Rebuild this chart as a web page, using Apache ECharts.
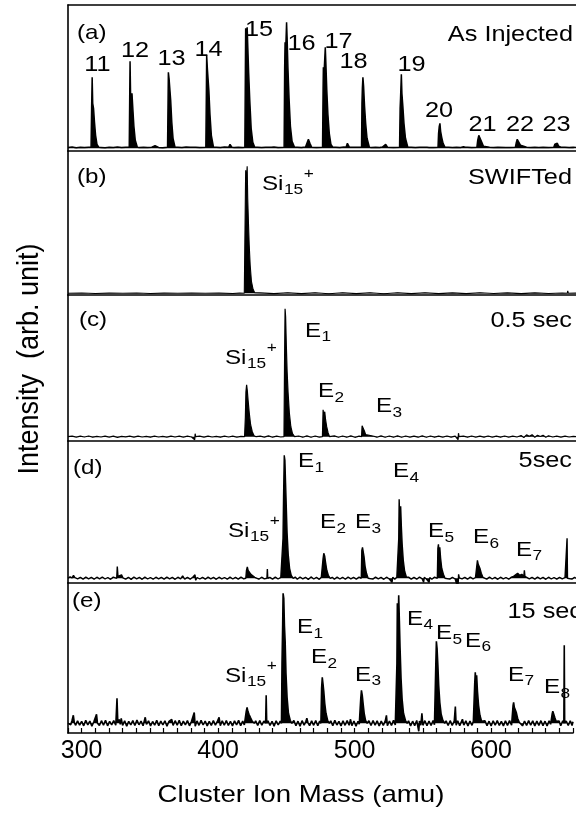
<!DOCTYPE html>
<html><head><meta charset="utf-8">
<script src="https://cdn.jsdelivr.net/npm/echarts@6/dist/echarts.min.js"></script>
<style>html,body{margin:0;padding:0;background:#fff}#c{width:576px;height:814px}</style>
</head><body><div id="c"></div>
<script>
// ---------------- DATA (mass in amu, intensity in arb. units) ----------------
const xTickLabels = [300, 400, 500, 600];

// Panel (a) As Injected
const peaksA = [
 [[306.8,1],[307.2,40],[307.6,71],[308,45],[308.6,40],[309.3,26],[310.1,13],[311.1,4],[312.5,1]],
 [[334.6,1],[335,60],[335.2,87],[335.6,52],[336.6,55],[337.3,38],[338,22],[339,8],[340.5,1]],
 [[362.5,1],[362.9,50],[363.1,76],[363.6,70],[364.2,72],[364.8,48],[365.6,26],[366.5,10],[368,1]],
 [[390.4,1],[390.8,60],[391,93],[391.5,80],[392,82],[392.6,58],[393.4,34],[394.4,13],[396,1]],
 [[418.8,1],[419.2,80],[419.4,120],[419.9,95],[420.5,121],[421,100],[421.6,75],[422.4,48],[423.4,20],[424.6,6],[426,1]],
 [[447.4,1],[447.8,80],[448.1,106],[448.6,100],[449.2,126],[449.6,110],[450.2,80],[451,50],[452,22],[453.2,7],[455,1]],
 [[475.4,1],[475.8,60],[476,81],[476.6,78],[477.4,101],[477.9,82],[478.5,58],[479.3,34],[480.3,15],[481.5,4],[483,1]],
 [[503.8,1],[504.1,45],[504.4,60],[504.8,71],[505.3,62],[506,42],[506.8,25],[507.8,10],[509.5,1]],
 [[531.5,1],[531.9,40],[532.2,50],[532.8,74],[533.2,55],[533.9,42],[534.7,25],[535.8,10],[537.5,1]],
 [[559.5,1],[559.9,15],[560.4,22],[560.9,25],[561.4,17],[562.2,11],[563.2,5],[564.6,1]],
 [[587.8,1],[588.4,8],[589.2,13],[590,15],[590.6,11],[591.4,6],[592.6,2],[594,1]],
 [[615.8,1],[616.4,5],[617.2,9],[618,10],[618.6,7],[619.6,3],[621,1]],
 [[643.8,1],[644.6,4],[645.6,6],[646.4,5],[647.4,2],[649,1]],
 [[352.4,1],[353.4,2.5],[354.6,1]],
 [[379,1],[380.1,3],[381.4,1]],
 [[407,1],[408,4],[409.5,1]],
 [[435.7,1],[436.7,3],[438,1]],
 [[464,1],[465.1,9],[466.2,5],[467.5,1]],
 [[492.5,1],[493.5,5],[495,1]],
 [[520.4,1],[521.4,4],[522.8,1]],
 [[549,1],[550.1,2],[551.5,1]],
 [[577,1],[578,1.5],[579.5,1]]
];
const noiseA = [[290,0.8],[293,1.2],[296,0.6],[299,1.0],[302,0.7],[305,1.1],[314,0.9],[317,0.6],[320,1.0],[323,0.8],[326,1.3],[329,0.7],[332,1.0],[342,0.8],[345,1.1],[348,0.7],[351,1.0],[356,0.9],[359,0.6],[370,1.0],[373,0.8],[376,1.2],[383,1.0],[386,0.7],[398,1.0],[401,0.8],[404,1.2],[411,0.9],[414,1.1],[417,0.8],[428,1.0],[431,0.7],[434,1.0],[440,1.2],[443,0.8],[457,1.0],[460,0.8],[463,1.3],[468,1.1],[471,0.9],[485,1.0],[488,0.7],[491,1.2],[496,0.9],[499,1.1],[511,0.8],[514,1.0],[517,0.7],[519,1.2],[524,1.0],[527,0.8],[540,1.0],[543,0.7],[546,1.1],[553,0.9],[556,0.7],[567,1.0],[570,0.8],[573,1.1],[576,0.9],[581,1.0],[584,0.7],[597,1.0],[600,0.7],[603,1.1],[609,0.9],[612,0.8],[624,1.0],[627,0.7],[630,1.1],[633,0.9],[636,1.0],[640,0.8],[652,1.0],[655,0.8],[658,1.0],[660,0.9]];

// Panel (b) SWIFTed
const peaksB = [
 [[418.4,0],[418.9,0.5],[419.2,100],[419.4,123],[419.7,110],[420.1,118],[420.5,127],[420.9,95],[421.4,72],[422,48],[422.7,28],[423.6,12],[424.8,4],[426,0.5]]
];
const noiseB = [[290,0],[300,0.3],[310,-0.2],[320,0.2],[330,0],[340,0.3],[350,-0.2],[360,0.2],[370,0],[380,0.3],[390,0],[400,0.2],[410,-0.2],[415,0.2],[430,0.4],[440,-0.3],[450,0.5],[460,-0.3],[470,0.6],[480,-0.4],[490,0.5],[500,-0.3],[510,0.6],[520,-0.4],[530,0.5],[540,-0.3],[550,0.5],[560,-0.3],[570,0.4],[580,-0.3],[590,0.5],[600,-0.2],[610,0.4],[620,-0.3],[630,0.4],[640,-0.2],[650,0.3],[653.6,0],[654,2.5],[654.4,0],[660,0.2]];

// Panel (c) 0.5 sec
const peaksC = [
 [[418.6,0],[419.2,20],[419.6,45],[420.1,52],[420.6,46],[421.2,36],[422,24],[423,12],[424.2,5],[425.5,1],[427,0]],
 [[447.3,0],[447.7,70],[448.1,128],[448.5,120],[449,92],[449.6,65],[450.3,44],[451.2,24],[452.3,10],[453.5,3],[455,0]],
 [[475.3,0],[475.8,27],[476.4,20],[477,25],[477.6,17],[478.4,10],[479.4,4],[480.5,0]],
 [[503.8,0],[504.2,11],[505,10],[505.8,6],[506.8,2],[508,0]]
];
const noiseC = [[290,0],[293,0.6],[296,-0.4],[299,0.5],[302,-0.3],[305,0.7],[308,-0.5],[311,0.4],[314,-0.3],[317,0.6],[320,-0.4],[323,0.5],[326,-0.6],[329,0.4],[332,-0.2],[335,0.6],[338,-0.4],[341,0.5],[344,-0.3],[347,0.4],[350,-0.5],[353,0.6],[356,-0.3],[359,0.4],[362,-0.4],[365,0.5],[368,-0.3],[371,0.6],[374,-0.4],[377,0.5],[380,-0.3],[382.3,-3],[382.6,3],[383,0],[386,0.5],[389,-0.4],[392,0.6],[395,-0.3],[398,0.4],[401,-0.5],[404,0.6],[407,-0.3],[410,0.5],[413,-0.4],[416,0.3],[430,0.6],[433,-0.4],[436,0.8],[439,-0.5],[442,0.6],[445,-0.3],[458,0.7],[461,-0.5],[464,0.8],[467,-0.6],[470,0.7],[473,-0.4],[484,0.8],[487,-0.6],[490,0.7],[493,-0.5],[496,0.8],[499,-0.6],[502,0.5],[512,0.7],[515,-0.5],[518,0.8],[521,-0.6],[524,0.7],[527,-0.5],[530,0.8],[533,-0.6],[536,0.7],[539,-0.4],[542,0.6],[545,-0.5],[548,0.8],[551,-0.6],[554,0.7],[557,-0.5],[560,0.6],[563,-0.4],[566,0.7],[569,-0.5],[572,0.6],[574.1,-3],[574.4,3.5],[574.8,0],[578,0.6],[581,-0.5],[584,0.7],[587,-0.4],[590,0.6],[593,-0.5],[596,0.7],[599,-0.4],[602,0.6],[605,-0.5],[608,0.7],[611,-0.4],[614,0.6],[617,-0.3],[620,1.2],[622,-0.8],[624,1.8],[626,0.4],[628,2.0],[630,-0.6],[632,1.5],[634,0.2],[636,1.4],[638,-0.5],[640,1.0],[643,-0.3],[646,0.6],[649,-0.4],[652,0.5],[655,-0.3],[658,0.4],[660,0]];

// Panel (d) 5 sec
const peaksD = [
 [[419.5,0],[420,8],[420.6,11.5],[421.2,8],[422,6],[423.2,4],[424.5,2],[426,1]],
 [[446.2,0],[446.6,40],[447,83],[447.5,123],[448,118],[448.5,95],[449,72],[449.6,45],[450.4,24],[451.4,10],[452.6,3],[454,0]],
 [[475.3,0],[475.8,20],[476.3,25],[477,22],[477.6,16],[478.5,8],[479.6,3],[481,0]],
 [[503.6,0],[504,28],[504.5,31],[505,32],[505.6,22],[506.4,12],[507.4,5],[508.6,0]],
 [[530.5,0],[530.9,40],[531.2,79],[531.7,55],[532.3,72],[532.8,52],[533.4,34],[534.2,18],[535.2,7],[536.5,1]],
 [[559,0],[559.4,30],[559.8,34],[560.3,25],[560.8,31],[561.4,20],[562.2,10],[563.4,4],[564.6,0]],
 [[587.8,0],[588.2,18],[588.8,14],[589.4,15],[590,10],[591,5],[592.2,1]]
];
const noiseD = [[290,0],[291.5,1.5],[293,0.5],[294,3],[295,0.8],[297,-0.6],[299,1.0],[301,-0.8],[303,1.2],[305,-0.5],[307,0.9],[309,-0.9],[311,1.1],[313,-0.6],[315,1.3],[317,-0.7],[319,0.8],[321,-1.0],[323,1.2],[325.5,0],[325.9,11.7],[326.4,2],[327,4],[327.8,1],[329,3.5],[330,0.5],[332,-0.8],[334,1.0],[336,-1.1],[338,1.3],[340,-0.6],[342,0.9],[344,-1.0],[346,1.2],[348,-0.7],[350,0.8],[352,-0.9],[354,1.1],[356,-0.6],[358,1.0],[360,-0.8],[362,1.2],[364,-0.5],[366,0.9],[368,-1.0],[370,1.1],[372,-0.6],[373.5,2.5],[375,-0.8],[377,1.0],[379,-0.9],[381,1.3],[382.5,3.5],[383,-2],[384,0.8],[386,-0.7],[388,1.0],[390,-0.9],[392,1.2],[394,-0.6],[396,0.9],[398,-1.0],[400,1.1],[400.7,2.5],[402,-0.6],[404,0.8],[406,-0.9],[408,1.2],[410,-0.7],[412,1.0],[414,-0.8],[416,1.1],[418,-0.5],[427,0.8],[429,-0.9],[431,1.1],[433,-0.6],[434.9,0],[435.2,9.3],[435.5,0],[437,1.0],[439,-0.8],[441,1.2],[443,-0.7],[445,0.9],[455.5,1.2],[457,-0.9],[459,1.3],[461,-0.6],[463,1.0],[465,-1.1],[467,1.4],[469,-0.7],[471,0.9],[473,-1.0],[474.5,1.1],[482.5,1.0],[484,-0.9],[486,1.2],[488,-0.7],[490,1.0],[492,-1.0],[494,1.3],[496,-0.6],[498,0.9],[500,-0.8],[502,1.1],[510,1.0],[512,-0.8],[514,1.2],[516,-0.6],[518,0.9],[520,-1.0],[522,1.1],[524,-0.7],[526,-4],[526.5,1],[528,-0.8],[529.5,1.0],[538,1.2],[540,-0.8],[542,1.0],[544,-0.9],[546,1.3],[548,-0.6],[549,-4],[549.5,1],[551,-0.7],[553,-4],[553.5,0.8],[555,-0.9],[557,1.2],[558.2,-0.5],[566,1.1],[568,-0.8],[570,1.0],[572,-0.7],[574,-10],[574.5,4],[575,0.5],[577,-0.6],[579,1.0],[581,-0.9],[583,1.2],[585,-0.6],[586.8,0.8],[593.5,1.0],[595,-0.8],[597,1.2],[599,-0.7],[601,0.9],[603,-1.0],[605,1.1],[607,-0.6],[609,0.8],[611,-0.9],[613,1.2],[614.5,2],[616,3.5],[617.5,5],[619,3],[620.5,4],[622,2],[622.4,8],[622.8,2],[624,1.5],[626,-0.5],[628,1.0],[630,-0.8],[632,1.2],[634,-0.6],[636,0.9],[638,-1.0],[640,1.1],[642,-0.7],[644,0.8],[646,-0.9],[648,1.0],[650,-0.6],[652,0.8],[653.2,0],[653.5,40],[653.8,0],[655,0.6],[657,-0.8],[659,0.9],[660,0]];

// Panel (e) 15 sec
const peaksE = [
 [[420,0],[420.6,12],[421.2,16],[421.8,12],[422.6,9],[423.6,6],[425,2],[426.5,0]],
 [[446.4,0],[446.8,60],[447.3,100],[447.6,130],[448.1,125],[448.6,97],[449.1,82],[449.7,50],[450.5,26],[451.5,10],[452.8,3],[454,0]],
 [[475.3,0],[475.8,35],[476.3,46],[476.8,40],[477.4,32],[478.1,20],[479,10],[480.2,3],[481.5,0]],
 [[504,0],[504.5,25],[505,33],[505.6,28],[506.2,20],[507,10],[508,3],[509.2,0]],
 [[530.6,0],[531,60],[531.3,120],[531.8,95],[532.3,128],[532.8,102],[533.3,75],[534,45],[534.8,24],[535.8,10],[537.2,3],[538.5,0]],
 [[559,0],[559.5,60],[559.9,82],[560.4,75],[561,58],[561.6,38],[562.4,21],[563.4,9],[564.6,3],[566,0]],
 [[587.6,0],[588,40],[588.4,51],[588.9,40],[589.4,48],[590,32],[590.8,18],[591.8,8],[593,2],[594.4,0]],
 [[615.6,0],[616.1,18],[616.5,21],[617,16],[617.6,18],[618.4,11],[619.4,5],[620.6,1]],
 [[644.2,0],[644.7,9],[645.2,12],[645.8,10],[646.6,6],[647.6,2],[648.8,0]]
];
const noiseE = [[290,0],[291,2],[292,-1.5],[293,3],[293.9,8],[294.6,1],[295.5,-2],[297,2.5],[298.5,-1.8],[300,2],[301.5,-2.5],[303,3],[304.5,-1.5],[306,2.2],[307.5,-2.8],[309,1.8],[310.9,9],[311.6,0],[313,-2.2],[314.5,2.6],[316,-1.8],[317.5,3],[319,-2.5],[320.5,2],[322,-1.6],[323.5,2.8],[325,-2],[325.9,25],[326.5,1],[327.5,4],[328.3,-1],[329,5],[330,-2],[331.5,2.5],[333,-2.8],[334.5,1.9],[336,-1.6],[337.5,2.7],[339,-2.2],[340.5,3.2],[342,-1.5],[343.5,2.1],[345,-2.4],[346.6,6],[347.5,-1],[349,2.4],[350.5,-2.6],[352,1.8],[353.5,-1.9],[355,2.9],[356.5,-2.3],[358,2.2],[359.5,-1.7],[361,2.5],[362.5,-2.8],[364,2.0],[366,4],[367,-2.1],[368.5,2.6],[370,-1.9],[371.5,3.0],[373,-2.4],[374.5,2.1],[376,-1.6],[377.5,2.8],[379,-2.5],[380.5,2.0],[382.5,10.7],[383.2,-3],[384.5,2.4],[386,-2.0],[387.5,2.9],[389,-1.7],[390.5,2.2],[392,-2.6],[393.5,1.9],[395,-2.1],[396.5,2.7],[398,-1.8],[399.5,2.3],[400.7,6],[401.6,-2.4],[403,2.5],[404.5,-1.9],[406,2.8],[407.5,-2.2],[409,2.0],[410.5,-2.7],[412,2.4],[413.5,-1.6],[415,2.9],[416.5,-2.3],[418,2.1],[419.2,-1.5],[427.5,2.4],[429,-2.1],[430.5,2.8],[432,-1.9],[433.5,2.3],[434.8,0],[435.2,28],[435.6,0],[436.5,2.6],[438,-2.2],[439.5,2.0],[441,-2.8],[442.5,2.5],[444,-1.7],[445.5,2.2],[455.5,2.7],[457,-2.4],[458.5,2.1],[460,-2.9],[461.5,2.6],[463,-1.8],[464.3,2],[465,5],[465.7,1],[467,-2.3],[468.5,2.4],[470,-2.0],[471.5,2.8],[473,-2.5],[474.4,2.2],[482.5,2.5],[484,-2.3],[485.5,2.9],[487,-1.7],[488.5,2.0],[490,-2.6],[491.5,2.4],[493,-2.0],[494.5,2.7],[496,-1.9],[497,4],[498,-2.4],[499.5,2.3],[501,-2.8],[502.5,2.1],[503.4,-1],[510.5,2.6],[512,-2.2],[513.5,2.8],[515,-1.8],[516.5,2.4],[518,-2.7],[519.5,2.2],[521,-2.0],[522.5,2.6],[523.3,8],[524,-2.5],[525.5,2.3],[527,-2.1],[528.5,2.9],[529.8,-1.6],[539.5,2.4],[541,-2.6],[542.5,2.1],[544,-2.3],[545.5,2.8],[547,-8],[547.5,2.2],[548.5,-2.0],[549.3,10],[550,-2],[551.5,2.6],[553,-2.4],[554.5,2.3],[556,-2.1],[557.5,2.7],[558.5,-1.5],[567,2.4],[568.5,-2.2],[570,2.6],[571.5,-2.0],[573,2.3],[573.8,16.7],[574.4,-2],[575.5,2.5],[577,-2.3],[579,4],[580,-1.8],[581.5,2.4],[583,-2.6],[584.5,2.2],[586,-2.0],[587,2],[595.5,2.6],[597,-2.3],[598.5,2.1],[600,-2.7],[601.5,2.5],[603,-1.9],[604.5,2.8],[606,-2.2],[607.5,2.0],[609,-2.6],[610.5,2.4],[612,-2.1],[613.5,2.7],[615,-1.8],[621.5,2.3],[623,-2.5],[624.5,2.1],[626,-2.2],[627.5,2.8],[629,-1.9],[630.5,2.4],[632,-2.6],[633.5,2.2],[635,-2.0],[636.5,2.6],[638,-2.3],[639.5,2.1],[641,-2.7],[642.5,2.4],[643.6,-1],[649.8,2.2],[651,-2.4],[652.5,2.5],[653.3,0],[653.6,78],[653.9,0],[655,2.3],[656.5,-2.1],[658,2.6],[659.3,-2.2],[660,1.5]];

// ---------------- BUILD ----------------
function build(peaks, noise) {
  const ranges = peaks.map(b => [b[0][0], b[b.length - 1][0]]);
  const pts = noise.filter(p => !ranges.some(r => p[0] >= r[0] && p[0] <= r[1]));
  peaks.forEach(b => pts.push(...b));
  pts.sort((a, b) => a[0] - b[0]);
  return pts;
}
const panels = [build(peaksA, noiseA), build(peaksB, noiseB), build(peaksC, noiseC), build(peaksD, noiseD), build(peaksE, noiseE)];

const tops = [5, 151, 295, 441, 583];
const bottoms = [151, 295, 441, 583, 733];
const offs = [2.7, 1.7, 4.3, 4.7, 9.7];
const lineW = [1.5, 1.1, 1.2, 1.4, 1.6];
const LEFT = 68, W = 508;
const FONT = '"Liberation Sans", Arial, Helvetica, sans-serif';
const SX = 1.15;

const chart = echarts.init(document.getElementById('c'), null, {renderer: 'canvas'});

const grids = [], xAxes = [], yAxes = [], series = [];
for (let i = 0; i < 5; i++) {
  const h = bottoms[i] - tops[i];
  grids.push({left: LEFT, top: tops[i], width: W, height: h, containLabel: false});
  const last = i === 4;
  xAxes.push({
    gridIndex: i, type: 'value', min: 290, max: 660, interval: 10,
    axisLine: {show: true, onZero: false, lineStyle: {color: '#000', width: 1.6}},
    axisTick: {show: last, inside: true, length: 5, lineStyle: {color: '#000', width: 1.2}},
    axisLabel: {show: last, margin: 6, color: '#000', fontSize: 25, fontFamily: FONT,
      formatter: v => (xTickLabels.indexOf(Math.round(v)) >= 0 ? String(Math.round(v)) : '')},
    splitLine: {show: false}
  });
  yAxes.push({
    gridIndex: i, type: 'value', min: -offs[i], max: h - offs[i],
    axisLine: {show: true, onZero: false, lineStyle: {color: '#000', width: 1.6}},
    axisTick: {show: false}, axisLabel: {show: false}, splitLine: {show: false}
  });
  series.push({
    type: 'line', xAxisIndex: i, yAxisIndex: i, data: panels[i],
    symbol: 'none', showSymbol: false, smooth: false, animation: false,
    lineStyle: {color: '#000', width: lineW[i]},
    areaStyle: {color: '#000', opacity: 1},
    clip: true
  });
}
// top frame line of panel (a)
xAxes.push({
  gridIndex: 0, type: 'value', position: 'top', min: 290, max: 660,
  axisLine: {show: true, onZero: false, lineStyle: {color: '#000', width: 1.6}},
  axisTick: {show: false}, axisLabel: {show: false}, splitLine: {show: false}
});

// ---------------- TEXT ----------------
const mctx = document.createElement('canvas').getContext('2d');
function tw(s, size) { mctx.font = size + 'px ' + FONT; return mctx.measureText(s).width; }
const G = [];
function T(x, y, s, size, align, sx) {
  G.push({type: 'text', x: x, y: y, scaleX: sx == null ? SX : sx, silent: true, z: 100,
    style: {text: s, font: size + 'px ' + FONT, fill: '#000', textAlign: align || 'left', textVerticalAlign: 'middle'}});
}
function SL(x, y, main, sub, sup) {
  T(x, y, main, 21, 'left');
  const w = tw(main, 21) * SX;
  T(x + w + 0.5, y + 6, sub, 15, 'left');
  if (sup) T(x + w + tw(sub, 15) * SX + 1, y - 10, sup, 15, 'left');
}
function CT(x, y, s) { T(x, y, s, 22, 'center'); }

// panel (a)
T(77, 33, '(a)', 21, 'left');
T(573, 35, 'As Injected', 22, 'right');
const numLabels = [['11',97.5,65],['12',135,50.5],['13',171.5,58.5],['14',208.5,50],['15',259,29.5],['16',301.5,43.5],['17',338.5,41.5],['18',353.5,61.5],['19',411.5,65],['20',439,110.5],['21',482.5,124.5],['22',520,124.5],['23',556.5,124.5]];
numLabels.forEach(n => CT(n[1], n[2], n[0]));
// panel (b)
T(77, 177.5, '(b)', 21, 'left');
T(572, 178, 'SWIFTed', 22, 'right');
SL(262, 184, 'Si', '15', '+');
// panel (c)
T(79, 320, '(c)', 21, 'left');
T(572, 320.5, '0.5 sec', 22, 'right');
SL(225, 358, 'Si', '15', '+');
SL(305, 331, 'E', '1');
SL(318, 391.5, 'E', '2');
SL(376, 406.5, 'E', '3');
// panel (d)
T(73, 468.5, '(d)', 21, 'left');
T(572, 460.5, '5sec', 22, 'right');
SL(228, 531, 'Si', '15', '+');
SL(298, 461.5, 'E', '1');
SL(320, 522.5, 'E', '2');
SL(355, 522.5, 'E', '3');
SL(393, 471.5, 'E', '4');
SL(428, 531.5, 'E', '5');
SL(473, 537.5, 'E', '6');
SL(516, 550, 'E', '7');
// panel (e)
T(72, 601.5, '(e)', 21, 'left');
T(582, 611.5, '15 sec', 22, 'right');
SL(225, 676, 'Si', '15', '+');
SL(297, 627.5, 'E', '1');
SL(311, 657.5, 'E', '2');
SL(355, 675, 'E', '3');
SL(407, 619, 'E', '4');
SL(436, 633.5, 'E', '5');
SL(465, 641, 'E', '6');
SL(508, 675, 'E', '7');
SL(544, 687.5, 'E', '8');
// axis titles
T(301, 795, 'Cluster Ion Mass (amu)', 24, 'center');
G.push({type: 'text', x: 30, y: 359, rotation: Math.PI / 2, scaleY: 1.1, silent: true,
  style: {text: 'Intensity  (arb. unit)', font: '27px ' + FONT, fill: '#000', textAlign: 'center', textVerticalAlign: 'middle'}});

chart.setOption({
  backgroundColor: '#fff',
  animation: false,
  grid: grids, xAxis: xAxes, yAxis: yAxes, series: series,
  graphic: {elements: G}
});
</script>
</body></html>
